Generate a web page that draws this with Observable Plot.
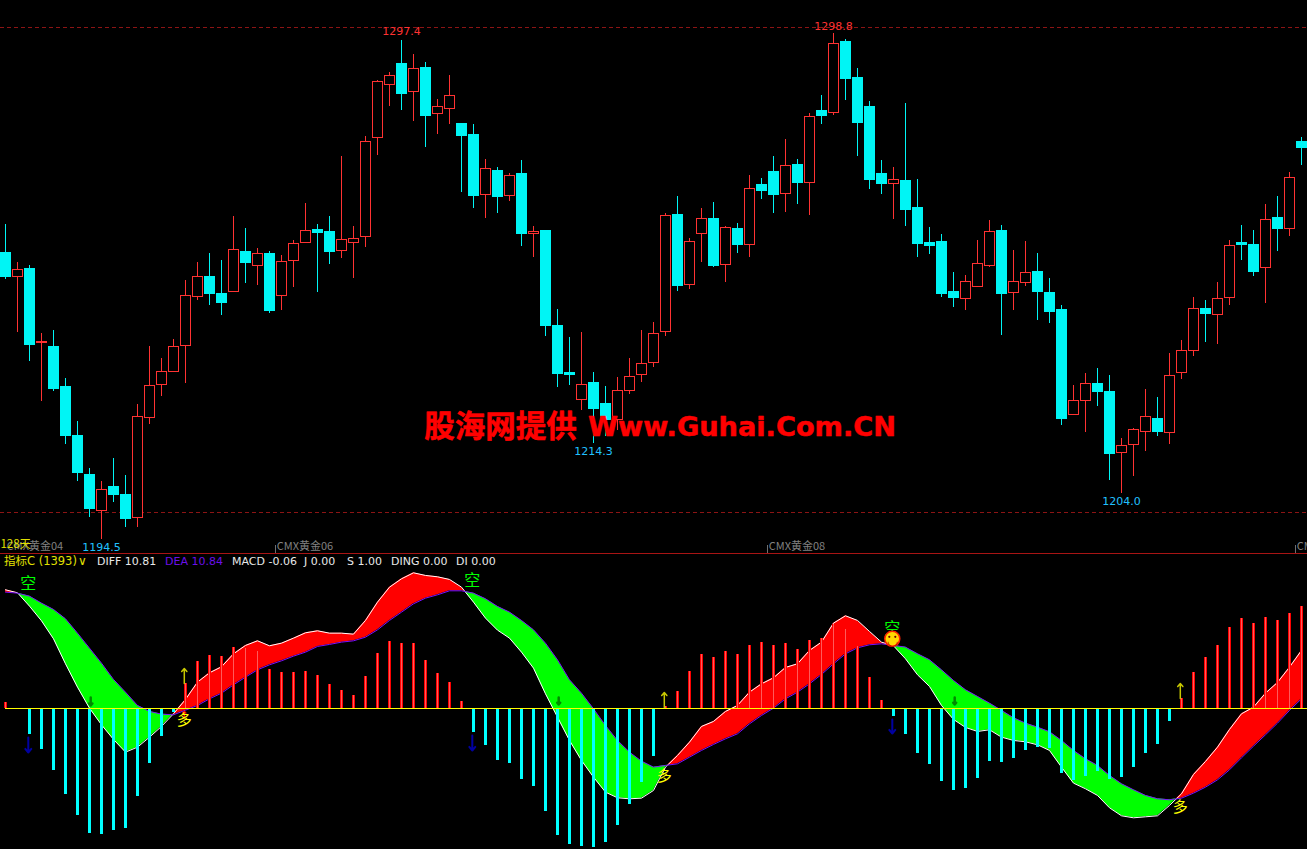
<!DOCTYPE html>
<html>
<head>
<meta charset="utf-8">
<script src="https://cdn.jsdelivr.net/npm/d3@7"></script>
<script src="https://cdn.jsdelivr.net/npm/@observablehq/plot@0.6"></script>
<style>
html,body{margin:0;padding:0;background:#000;overflow:hidden}
#hdr{position:relative;border-top:1px solid #a81414;box-sizing:border-box;height:17px;font:11px/15px "DejaVu Sans","Noto Sans CJK SC",sans-serif;color:#e8e8e8;background:#000}
#hdr span{position:absolute;top:0;white-space:pre}
svg{display:block}
</style>
</head>
<body>
<div id="app"></div>
<script>
const opens = [1253.5,1248.6,1250.2,1234.9,1234.1,1226.0,1215.9,1207.8,1200.3,1205.2,
1203.7,1198.9,1219.5,1226.4,1229.0,1234.4,1244.5,1248.7,1245.2,1245.5,
1253.7,1250.9,1253.3,1244.7,1251.9,1255.6,1258.4,1257.8,1253.9,1255.6,
1256.8,1277.2,1288.3,1292.5,1286.7,1291.8,1282.2,1283.2,1280.1,1278.0,
1265.5,1270.4,1265.3,1269.8,1257.4,1258.0,1238.6,1228.7,1223.2,1226.8,
1222.3,1219.2,1225.0,1228.3,1230.8,1237.2,1261.5,1246.9,1257.4,1260.5,
1251.0,1258.6,1255.2,1267.5,1270.2,1265.7,1271.8,1268.0,1282.8,1282.4,
1297.2,1289.6,1283.6,1269.8,1267.8,1268.5,1262.9,1255.7,1255.9,1245.6,
1244.0,1246.5,1250.8,1258.2,1245.3,1247.3,1249.7,1245.4,1241.9,1220.1,
1223.0,1226.6,1224.8,1212.2,1213.9,1216.6,1219.4,1216.4,1228.8,1233.3,
1242.1,1240.7,1244.2,1255.7,1255.3,1250.4,1260.7,1258.5,1276.4];
const closes = [1248.7,1250.1,1234.5,1235.2,1225.6,1215.9,1208.1,1200.8,1204.7,1203.7,
1198.6,1219.7,1226.1,1229.0,1234.2,1244.7,1248.6,1245.0,1243.3,1254.2,
1251.4,1253.4,1241.5,1251.7,1255.5,1258.1,1257.6,1253.7,1256.3,1256.5,
1276.5,1288.9,1290.1,1286.3,1291.6,1281.9,1283.7,1286.0,1277.8,1265.4,
1270.9,1265.2,1269.5,1257.4,1257.9,1238.4,1228.5,1228.3,1226.3,1221.3,
1219.2,1225.1,1228.0,1230.7,1236.9,1261.3,1246.8,1255.9,1260.6,1250.8,
1258.7,1255.3,1266.8,1266.4,1265.6,1271.5,1268.1,1281.7,1281.9,1296.7,
1289.4,1280.3,1268.7,1267.9,1268.7,1262.5,1255.5,1255.1,1245.2,1244.2,
1247.6,1251.3,1257.9,1245.2,1247.6,1249.5,1245.6,1241.3,1219.4,1223.1,
1226.6,1224.8,1212.0,1213.8,1217.1,1219.7,1216.7,1228.2,1233.4,1242.0,
1240.9,1244.1,1255.0,1255.3,1249.7,1260.4,1258.6,1269.1,1275.3];
const highs = [1259.4,1251.6,1251.0,1236.9,1237.6,1227.7,1218.8,1209.1,1206.4,1211.1,
1207.6,1222.2,1234.3,1231.8,1235.7,1247.9,1251.6,1253.5,1252.0,1261.1,
1258.6,1254.5,1253.9,1253.0,1256.1,1263.8,1259.4,1261.1,1273.5,1259.0,
1277.6,1289.2,1290.8,1297.4,1294.5,1292.9,1285.2,1290.2,1280.1,1280.1,
1272.9,1271.2,1270.0,1272.6,1259.0,1258.0,1241.9,1236.1,1237.1,1228.9,
1226.0,1227.9,1231.8,1237.6,1239.2,1261.8,1265.2,1256.5,1262.7,1264.0,
1259.0,1259.6,1269.5,1268.9,1273.5,1277.0,1272.9,1282.3,1286.1,1298.8,
1297.6,1291.6,1284.8,1272.6,1271.2,1284.4,1268.7,1258.8,1257.4,1249.5,
1248.9,1256.1,1260.3,1259.2,1254.1,1255.9,1253.5,1248.3,1242.7,1226.2,
1228.7,1229.7,1228.3,1215.3,1217.3,1225.4,1223.7,1232.8,1235.5,1244.4,
1243.8,1247.5,1256.1,1259.2,1258.2,1263.6,1265.2,1270.2,1277.4];
const lows = [1248.1,1237.2,1231.2,1223.0,1225.0,1214.1,1206.5,1199.0,1194.5,1202.1,
1197.0,1197.0,1218.2,1224.0,1229.0,1226.7,1243.8,1242.8,1240.7,1245.5,
1247.3,1246.9,1241.1,1241.6,1246.5,1255.6,1245.5,1251.2,1252.5,1248.2,
1254.8,1273.7,1283.8,1283.0,1280.6,1275.4,1278.1,1280.0,1266.0,1262.7,
1260.7,1261.7,1264.2,1254.9,1252.6,1236.3,1225.8,1226.2,1221.0,1214.3,
1215.7,1216.9,1224.4,1226.8,1230.0,1236.3,1245.6,1246.0,1251.6,1250.5,
1247.5,1253.4,1252.6,1264.6,1261.7,1261.9,1263.6,1261.3,1280.1,1281.9,
1285.0,1273.5,1266.6,1265.6,1260.5,1259.0,1252.6,1253.2,1244.4,1242.3,
1241.7,1246.5,1250.6,1236.5,1241.7,1246.6,1239.6,1239.0,1218.0,1220.1,
1216.5,1221.9,1206.6,1204.0,1207.4,1212.6,1215.7,1214.0,1227.4,1232.2,
1235.1,1234.7,1242.7,1252.0,1248.7,1243.1,1253.9,1257.0,1271.6];
const macd = [1.27,0.05,-5.13,-8.13,-12.33,-17.13,-21.33,-24.87,-25.13,-24.33,
-23.93,-17.53,-10.93,-5.53,-0.73,5.07,9.47,10.67,10.47,12.27,
12.0,11.47,7.87,7.27,7.27,7.47,6.67,4.87,3.67,2.67,
6.47,11.07,13.47,13.07,13.07,9.67,7.07,5.27,1.47,-4.73,
-7.33,-10.33,-10.93,-14.13,-15.53,-20.53,-25.33,-27.13,-27.53,-27.73,
-26.73,-23.33,-19.13,-14.73,-9.53,0.47,3.47,7.47,10.87,10.27,
11.47,10.87,12.67,13.27,12.67,13.07,11.87,13.67,14.07,16.87,
15.87,12.47,6.27,1.67,-1.53,-5.13,-8.93,-11.13,-14.53,-16.33,
-15.93,-13.93,-10.53,-10.73,-9.93,-8.33,-7.73,-7.93,-12.93,-14.33,
-13.53,-12.53,-14.13,-13.73,-11.73,-8.93,-7.13,-2.53,2.07,7.27,
10.27,12.67,16.27,18.07,17.07,18.27,17.67,19.07,20.47];
const diff = [23.8,23.2,20.53,17.6,14.0,9.0,4.33,0.13,-3.2,-6.13,
-8.67,-7.67,-5.67,-3.53,-1.0,1.87,5.33,7.2,8.4,11.0,
12.67,13.6,12.6,13.13,14.13,15.2,15.6,15.13,15.13,14.93,
17.67,21.33,24.33,26.0,27.2,26.67,26.4,25.87,24.33,21.33,
18.13,15.73,14.13,11.33,8.13,3.0,-1.67,-6.33,-10.33,-13.67,
-16.67,-17.8,-18.0,-17.87,-16.33,-11.67,-9.33,-6.67,-3.53,-2.53,
-0.53,0.67,3.33,5.0,6.2,8.27,9.0,11.67,13.33,17.13,
18.6,17.67,15.47,13.33,12.6,10.0,6.8,4.47,0.67,-2.13,
-3.73,-4.53,-4.2,-5.67,-6.33,-6.6,-7.2,-8.33,-11.67,-14.87,
-16.0,-17.33,-19.8,-21.4,-21.8,-21.6,-21.4,-19.33,-17.0,-13.13,
-10.53,-7.67,-4.13,-1.0,0.33,3.13,5.27,8.33,11.67];
const dea = [23.33,23.13,22.53,21.13,19.87,18.0,15.13,12.13,9.13,5.87,
3.33,0.67,-0.53,-1.07,-1.2,-0.27,0.67,2.0,3.13,4.8,
6.33,7.8,8.8,9.6,10.53,11.33,12.47,12.87,13.33,13.6,
14.33,15.8,17.67,19.33,21.0,22.13,22.8,23.6,23.6,23.13,
22.0,20.47,19.33,17.67,15.8,13.13,9.8,5.8,3.13,0,
-3.33,-6.33,-8.67,-10.47,-11.67,-11.33,-11.0,-9.67,-8.33,-7.13,
-6.0,-5.0,-3.0,-1.33,0.13,2.0,3.33,5.0,6.87,9.0,
11.0,12.2,12.8,13.0,12.67,12.33,11.0,9.8,7.8,5.67,
3.8,2.47,1.13,-0.33,-1.8,-2.87,-3.67,-4.6,-6.33,-8.33,
-10.0,-11.33,-13.33,-15.0,-16.2,-17.33,-18.0,-18.2,-17.87,-16.87,
-15.67,-14.2,-12.2,-9.8,-7.47,-5.2,-2.87,-0.33,2.0];
const priceLabels = [
  {i:33, p:1297.4, color:"#ff3232"},
  {i:69, p:1298.8, color:"#ff3232"},
  {i:49, p:1214.3, color:"#20c0ff"},
  {i:93, p:1204.0, color:"#20c0ff"},
  {i:8,  p:1194.5, color:"#20c0ff"}];
const gridPrices = [1300, 1200];
const periodNames = ["CMX黄金04","CMX黄金06","CMX黄金08","CMX黄金10"];
const periodAt = [0.1, 22.6, 63.6, 107.6];
const periodTicks = [22.5, 63.5, 107.5];
const shortMarks = [[1.9,24.9],[38.9,25.5],[73.9,16]];
const longMarks = [[14.9,-2.2],[54.9,-13.4],[97.9,-19.6]];
const upArrows = [[14.9,5.06,8.06],[54.9,0.26,3.26],[97.9,2.06,5.06]];
const downArrows = [[1.9,-5.74,-8.74],[38.9,-5.34,-8.34],[73.9,-2.14,-4.94]];
const minorArrows = [[7.1,2.26,0.66],[46.1,2.26,0.86],[79.1,2.26,0.86]];
const redTick = [[14.9,-1.9,-0.5]];
const smiley = [[73.9,14]];
const legend = [
 ["指标C (1393)",4,"#e0e000",11.5],["∨",78,"#e0e000",12],["DIFF 10.81",97,"#e8e8e8",11],["DEA 10.84",165,"#6a10e8",11],
 ["MACD -0.06",232,"#e8e8e8",11],["J 0.00",304,"#e8e8e8",11],["S 1.00",347,"#e8e8e8",11],["DING 0.00",391,"#e8e8e8",11],["DI 0.00",456,"#e8e8e8",11]];

const RED="#ff3232", CY="#00f5f5";
const bars = opens.map((o,i)=>({i,o,c:closes[i],h:highs[i],l:lows[i],up:closes[i]>=o||i===3}));
const xs = {type:"linear",domain:[-5/12,1302/12],range:[0,1307]};
const base = {width:1307,marginTop:0,marginRight:0,marginBottom:0,marginLeft:0,
  x:{...xs,axis:null},style:{background:"#000",display:"block"}};
const cjk = '"Noto Sans CJK SC","DejaVu Sans",sans-serif';
const num = '"DejaVu Sans",sans-serif';
const labelShift = {"1297.4":-9,"1298.8":-7,"1214.3":8,"1204.0":8,"1194.5":8};

const upper = Plot.plot({...base,height:553,
  y:{domain:[1191.55,1305.67],range:[553,0],axis:null},
  marks:[
    Plot.ruleY(gridPrices,{stroke:"#8c1414",strokeDasharray:"4,3",shapeRendering:"crispEdges"}),
    Plot.ruleX(bars.filter(d=>d.up),{x:"i",y1:"l",y2:"h",stroke:RED,shapeRendering:"crispEdges"}),
    Plot.ruleX(bars.filter(d=>!d.up),{x:"i",y1:"l",y2:"h",stroke:CY,shapeRendering:"crispEdges"}),
    Plot.rect(bars.filter(d=>d.up),{x1:d=>d.i-5/12,x2:d=>d.i+5/12,y1:"o",y2:"c",fill:"#000",stroke:RED,shapeRendering:"crispEdges"}),
    Plot.rect(bars.filter(d=>!d.up),{x1:d=>d.i-5/12,x2:d=>d.i+5/12,y1:"o",y2:"c",fill:CY,stroke:CY,shapeRendering:"crispEdges"}),
    ...priceLabels.map(d=>Plot.text([d],{x:"i",y:"p",text:v=>v.p.toFixed(1),fill:d.color,dy:labelShift[d.p.toFixed(1)],fontSize:11,fontFamily:num})),
    Plot.ruleX(periodTicks,{y1:1191.55,y2:1193.2,stroke:"#707070",shapeRendering:"crispEdges"}),
    Plot.text(periodNames,{x:(d,k)=>periodAt[k],y:1192.9,text:d=>d,textAnchor:"start",fill:"#808080",fontSize:11,fontFamily:cjk}),
    Plot.text(["128天"],{x:-0.42,y:1193.5,text:d=>d,textAnchor:"start",fill:"#e0e000",fontSize:11.5,fontFamily:cjk}),
    Plot.text(["股海网提供"],{x:34.9,y:1217.6,text:d=>d,textAnchor:"start",fill:"#ff0000",stroke:"#ff0000",strokeWidth:0.6,fontSize:30.5,fontWeight:"bold",fontFamily:cjk}),
    Plot.text(["Www.Guhai.Com.CN"],{x:48.55,y:1217.6,text:d=>d,textAnchor:"start",fill:"#ff0000",stroke:"#ff0000",strokeWidth:0.5,fontSize:27.2,fontWeight:"bold",fontFamily:num})
  ]
});

// band table with exact crossings
function band(){
  const up=[],dn=[];
  for(let i=0;i<diff.length;i++){
    const a=diff[i],b=dea[i];
    (a>=b?up:dn).push({x:i,d:a,e:b});
    if(i<diff.length-1){
      const g0=a-b,g1=diff[i+1]-dea[i+1];
      if(g0*g1<0){
        const t=g0/(g0-g1),v=a+(diff[i+1]-a)*t,p={x:i+t,d:v,e:v};
        up.push(p);dn.push(p);
      }
    }
  }
  return {up,dn};
}
const B=band();
const flat=(arr,color)=>{ // split into contiguous runs
  let z=0,out=[];
  arr.forEach((p,k)=>{ if(k&&p.x-arr[k-1].x>1) z++; out.push({...p,z}); });
  return Plot.areaY(out,{x:"x",y1:"d",y2:"e",z:"z",fill:color});
};
const series = diff.map((d,i)=>({i,d,e:dea[i],m:macd[i]}));
const arrow=(rows,color,w,head)=>Plot.arrow(rows,{x1:d=>d[0],x2:d=>d[0],y1:d=>d[1],y2:d=>d[2],stroke:color,strokeWidth:w,headLength:head,headAngle:80,bend:0});

const lower = Plot.plot({...base,height:279,
  y:{domain:[-28.14,27.66],range:[279,0],axis:null},
  marks:[
    flat(B.dn,"#00ff00"),
    flat(B.up,"#ff0000"),
    Plot.line(series,{x:"i",y:"d",stroke:"#fff",strokeWidth:1}),
    Plot.line(series,{x:"i",y:"e",stroke:"#7a10ff",strokeWidth:1}),
    Plot.ruleX(series.filter(d=>d.m>0),{x:"i",y1:0,y2:"m",stroke:"#ff0000",strokeWidth:3,shapeRendering:"crispEdges"}),
    Plot.ruleX(series.filter(d=>d.m>0),{x:"i",y1:0,y2:"m",stroke:"#ff5a5a",strokeWidth:1,shapeRendering:"crispEdges"}),
    Plot.ruleX(series.filter(d=>d.m<0),{x:"i",y1:0,y2:"m",stroke:"#00ffff",strokeWidth:3,shapeRendering:"crispEdges"}),
    Plot.ruleY([0],{x1:0,x2:108.5,stroke:"#ffff00",shapeRendering:"crispEdges"}),
    arrow(upArrows,"#c8c800",1.5,4),
    arrow(downArrows,"#0000a0",2,3.5),
    arrow(minorArrows,"#008a00",2.5,2.5),
    arrow(redTick,"#ff0000",1.5,3),
    Plot.text(shortMarks,{x:d=>d[0],y:d=>d[1],text:()=>"空",fill:"#00ff00",fontSize:16,fontFamily:cjk}),
    Plot.text(longMarks,{x:d=>d[0],y:d=>d[1],text:()=>"多",fill:"#ffff00",fontSize:15,fontFamily:cjk}),
    Plot.dot(smiley,{x:d=>d[0],y:d=>d[1],r:7.5,fill:"#ffd800",stroke:"#ff2000",strokeWidth:1.5}),
    Plot.dot(smiley,{x:d=>d[0],y:d=>d[1],r:1.1,dx:-3,dy:-2,fill:"#700000"}),
    Plot.dot(smiley,{x:d=>d[0],y:d=>d[1],r:1.1,dx:3,dy:-2,fill:"#700000"}),
    Plot.text(smiley,{x:d=>d[0],y:d=>d[1],text:()=>"◡",dy:2,fill:"#c00000",fontSize:13,fontFamily:num})
  ]
});

const app=document.getElementById("app");
app.appendChild(upper);
const hdr=document.createElement("div");hdr.id="hdr";
legend.forEach(([s,x,c,f])=>{const e=document.createElement("span");e.textContent=s;e.style.left=x+"px";e.style.color=c;e.style.fontSize=f+"px";hdr.appendChild(e);});
app.appendChild(hdr);
app.appendChild(lower);
</script>
</body>
</html>
